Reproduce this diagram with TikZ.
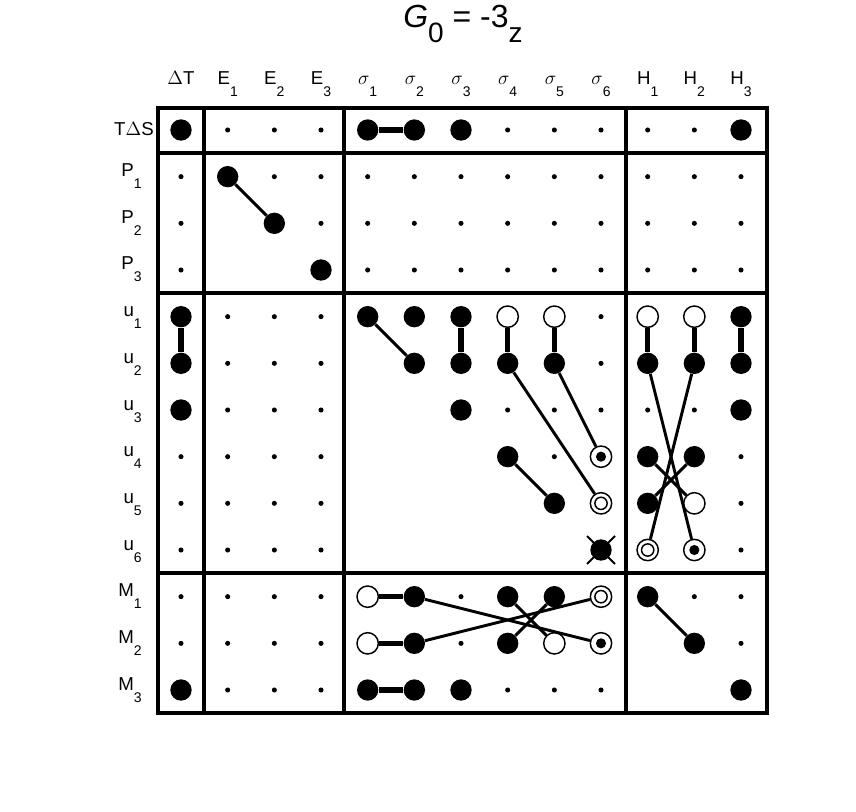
\documentclass[tikz,border=0pt]{standalone}
\usepackage{fontspec}
\setmainfont{Liberation Sans}
\usetikzlibrary{calc}
% subscripts: labels, title
\newcommand{\lsub}[1]{\raisebox{-9pt}{\fontsize{10.5}{11}\selectfont #1}}
\newcommand{\tsub}[1]{\raisebox{-11pt}{\fontsize{21}{21}\selectfont #1}}
\newcommand{\sig}[1]{$\sigma$\lsub{#1}}
\tikzset{
  small/.style={circle,fill,inner sep=0pt,minimum size=3.8pt},
  full/.style={circle,fill,inner sep=0pt,minimum size=16pt},
  open/.style={circle,draw,fill=white,line width=1.1pt,inner sep=0pt,minimum size=16pt},
  dbl/.style={open,path picture={\draw[black,line width=1.1pt] (path picture bounding box.center) circle (4.6pt);}},
  target/.style={open,path picture={\fill[black] (path picture bounding box.center) circle (3.8pt);}},
  link/.style={line width=2.2pt},
  pair/.style={line width=3.8pt},
  lab/.style={font=\fontsize{14}{17}\selectfont},
}
\begin{document}
\begin{tikzpicture}[x=0.75pt,y=-0.75pt]
  \useasboundingbox (0,0) rectangle (856,812);
  % grid points
  \foreach \r in {1,...,13}
    \foreach \c in {1,...,13}
      \coordinate (p-\r-\c) at ({181+46.667*(\c-1)},{130+46.667*(\r-1)});

  % small dots, none below the diagonal of a block
  \foreach \r in {1,...,13}
    \foreach \c in {1,...,13} {
      \pgfmathtruncatemacro\hide{(((\r>1)+(\r>4)+(\r>10))==((\c>1)+(\c>4)+(\c>10)))*(\c<\r)}
      \ifnum\hide=0 \node[small] (m-\r-\c) at (p-\r-\c) {}; \fi
    }

  % frame and blocks
  \draw[line width=3pt] (158,108) rectangle (767,713);
  \foreach \x in {204,344,626}
    \draw[line width=3pt] (\x,108) -- (\x,713);
  \foreach \y in {153,293,573}
    \draw[line width=3pt] (158,\y) -- (767,\y);

  % filled markers
  \foreach \r/\c in {1/1,1/5,1/6,1/7,1/13, 2/2,3/3,4/4,
      5/1,5/5,5/6,5/7,5/13, 6/1,6/6,6/7,6/8,6/9,6/11,6/12,6/13,
      7/1,7/7,7/13, 8/8,8/11,8/12, 9/9,9/11, 10/10,
      11/6,11/8,11/9,11/11, 12/6,12/8,12/12, 13/1,13/5,13/6,13/7,13/13}
    \node[full] (m-\r-\c) at (p-\r-\c) {};
  % open markers
  \foreach \r/\c in {5/8,5/9,5/11,5/12,9/12,11/5,12/5,12/9}
    \node[open] (m-\r-\c) at (p-\r-\c) {};
  \foreach \r/\c in {9/10,10/11,11/10}
    \node[dbl] (m-\r-\c) at (p-\r-\c) {};
  \foreach \r/\c in {8/10,10/12,12/10}
    \node[target] (m-\r-\c) at (p-\r-\c) {};
  \draw[line width=1.5pt] (p-10-10) ++(-14,-14) -- ++(28,28);
  \draw[line width=1.5pt] (p-10-10) ++(14,-14) -- ++(-28,28);

  % connectors
  \foreach \a/\b in {1-5/1-6, 5-1/6-1, 5-7/6-7, 5-8/6-8, 5-9/6-9, 5-11/6-11, 5-12/6-12,
      5-13/6-13, 11-5/11-6, 12-5/12-6, 13-5/13-6}
    \draw[pair] (m-\a) -- (m-\b);
  \foreach \a/\b in {2-2/3-3, 5-5/6-6, 6-8/9-10, 6-9/8-10, 8-8/9-9,
      6-11/10-12, 6-12/10-11, 8-11/9-12, 8-12/9-11,
      11-6/12-10, 12-6/11-10, 11-8/12-9, 11-9/12-8, 11-11/12-12}
    \draw[link] (m-\a) -- (m-\b);

  % labels
  \node[font=\fontsize{24}{26}\selectfont,anchor=base west,inner sep=0pt] (title) at (403,28)
    {\textit{G}\tsub{0} = -3\tsub{z}};
  \foreach \t [count=\c] in {$\Delta$T,E\lsub{1},E\lsub{2},E\lsub{3},\sig{1},\sig{2},\sig{3},
      \sig{4},\sig{5},\sig{6},H\lsub{1},H\lsub{2},H\lsub{3}}
    \node[lab,anchor=base,inner sep=0pt] (col-\c) at ($(p-1-\c)+(0,-45)$) {\t};
  \node[lab,anchor=base east,inner sep=0pt] (row-1) at ($(p-1-1)+(-27,6)$) {T$\Delta$S};
  \foreach \t [count=\i] in {P\lsub{1},P\lsub{2},P\lsub{3},u\lsub{1},u\lsub{2},
      u\lsub{3},u\lsub{4},u\lsub{5},u\lsub{6},M\lsub{1},M\lsub{2},M\lsub{3}} {
    \pgfmathtruncatemacro\r{\i+1}
    \node[lab,anchor=base east,inner sep=0pt] (row-\r) at ($(p-\r-1)+(-39,0)$) {\t};
  }
\end{tikzpicture}
\end{document}
